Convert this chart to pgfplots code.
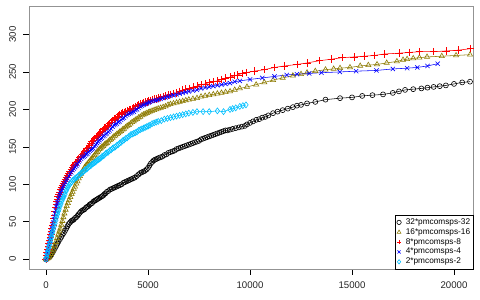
\documentclass[border=0pt]{standalone}
\usepackage{pgfplots}
\pgfplotsset{compat=1.18}
\usepackage{fontspec}
\setmainfont{Liberation Sans}
\definecolor{cblack}{RGB}{0,0,0}
\definecolor{colive}{RGB}{140,122,0}
\definecolor{cred}{RGB}{255,0,0}
\definecolor{cblue}{RGB}{0,0,255}
\definecolor{csky}{RGB}{0,191,255}
\begin{document}
\begin{tikzpicture}
\useasboundingbox (0,0) rectangle (480bp,300bp);
\begin{axis}[
  at={(29.5bp,31bp)}, anchor=south west,
  scale only axis, width=443.5bp, height=263bp,
  xmin=-810, xmax=20930, ymin=-13, ymax=338,
  xtick={0,5000,10000,15000,20000},
  ytick={0,50,100,150,200,250,300},
  scaled x ticks=false,
  /pgf/number format/assume math mode=true,
  /pgf/number format/1000 sep={},
  tick align=outside, tick pos=left,
  major tick length=6bp,
  tick style={black, line width=0.6pt},
  axis line style={draw=gray!85, line width=0.9pt},
  ticklabel style={font=\fontsize{9.7}{11}\selectfont, text=black!85},
  xticklabel style={yshift=-3.5bp},
  yticklabel style={rotate=90, anchor=south, xshift=0bp, yshift=4bp},
  legend cell align=left,
  legend image code/.code={\draw[#1, only marks, mark size=2.2pt] plot coordinates {(0.08cm,0cm)};},
  legend style={at={(rel axis cs:1,0)}, anchor=south east,
    font=\fontsize{8.3}{9}\selectfont, draw=black, line width=0.5pt,
    inner xsep=2pt, inner ysep=2pt, row sep=0pt,
    nodes={inner sep=0.6pt, text height=6.3pt, text depth=2.4pt},
    /tikz/every odd column/.append style={column sep=4pt},
    /tikz/every even column/.append style={column sep=1pt}},
  every axis plot/.append style={line width=0.55pt, mark options={solid, line width=0.6pt}},
]
\addplot[cblack, mark=o, mark size=2.5pt] coordinates {
(0,0) (50,1) (100,2) (150,3) (200,4) (260,6) (320,9) (380,12) (440,15) (500,18) (560,21) (620,24) (686,27) (750,30) (810,33) (870,35) (930,38) (990,41) (1050,44) (1110,47) (1176,49) (1240,51) (1300,52) (1360,53) (1420,55) (1480,56) (1540,58) (1600,60) (1660,62) (1720,64) (1780,65) (1840,66) (1900,67) (1960,69) (2020,70) (2080,71) (2140,73) (2200,74) (2260,75) (2320,77) (2380,78) (2440,79) (2500,80) (2560,81) (2620,82) (2680,83) (2740,84) (2800,85) (2860,87) (2920,88) (2980,90) (3050,91) (3137,93) (3220,94) (3300,95) (3380,96) (3460,97) (3540,98) (3620,99) (3700,100) (3790,102) (3870,103) (3950,104) (4030,105) (4110,106) (4190,107) (4270,108) (4350,109) (4444,111) (4530,113) (4610,115) (4690,116) (4770,117) (4850,118) (4935,120) (5000,122) (5070,125) (5140,128) (5210,130) (5280,132) (5350,133) (5430,134) (5505,135) (5600,136) (5700,137) (5800,139) (5900,140) (6000,142) (6100,143) (6200,144) (6300,145) (6400,147) (6500,148) (6600,149) (6700,150) (6800,151) (6900,152) (7000,153) (7100,154) (7200,155) (7300,156) (7400,157) (7500,158) (7600,160) (7700,161) (7800,162) (7900,163) (8000,164) (8100,165) (8200,166) (8300,167) (8400,168) (8500,169) (8600,170) (8700,171) (8800,172) (8900,172) (9020,173) (9150,174) (9300,175) (9450,176) (9600,177) (9750,178) (9853,180) (10000,182) (10150,184) (10300,186) (10450,187) (10600,189) (10750,190) (10900,192) (11130,195) (11350,197) (11600,199) (11850,201) (12100,203) (12300,205) (12500,206) (12794,208) (13200,210) (13700,213) (14412,215) (15000,216) (15500,218) (16000,219) (16520,220) (17000,222) (17300,224) (17600,226) (18000,227) (18400,228) (18700,229) (19000,230) (19300,231) (19600,232) (20000,234) (20400,236) (20784,237)
};
\addlegendentry{32*pmcomsps-32}
\addplot[colive, mark=triangle, mark size=3pt] coordinates {
(0,0) (60,1) (120,2) (180,4) (240,7) (300,10) (360,13) (420,18) (480,23) (540,28) (600,33) (650,37) (700,41) (750,46) (800,51) (850,56) (900,61) (960,66) (1013,71) (1070,75) (1130,79) (1190,83) (1250,87) (1300,90) (1360,94) (1420,97) (1480,101) (1540,104) (1600,108) (1660,111) (1720,114) (1780,117) (1840,120) (1900,123) (1960,125) (2020,127) (2080,129) (2140,131) (2200,133) (2260,135) (2320,137) (2380,139) (2440,141) (2500,143) (2560,145) (2620,147) (2680,148) (2740,150) (2800,151) (2860,153) (2920,154) (2980,155) (3050,157) (3120,159) (3190,160) (3260,162) (3330,164) (3400,165) (3470,167) (3540,168) (3610,170) (3680,171) (3750,173) (3820,174) (3900,176) (3980,178) (4060,179) (4140,181) (4220,183) (4300,184) (4380,186) (4460,187) (4540,189) (4620,190) (4700,192) (4780,193) (4860,194) (4940,195) (5020,196) (5100,197) (5200,198) (5300,199) (5400,200) (5500,201) (5620,202) (5740,203) (5860,204) (5980,206) (6100,207) (6250,208) (6400,209) (6550,210) (6700,211) (6850,212) (7000,213) (7200,214) (7400,215) (7600,217) (7800,218) (8000,219) (8200,220) (8400,221) (8600,222) (8800,223) (9020,224) (9250,226) (9500,228) (9850,230) (10300,233) (10700,236) (11130,239) (11600,242) (12100,245) (12500,247) (12794,249) (13200,251) (13700,253) (14100,254) (14412,255) (14900,256) (15400,258) (15800,259) (16225,260) (16700,262) (17200,264) (17500,266) (17700,267) (18000,268) (18300,269) (18677,270) (19400,271) (20100,272) (20784,273)
};
\addlegendentry{16*pmcomsps-16}
\addplot[cred, mark=+, mark size=3.8pt] coordinates {
(0,0) (30,5) (60,9) (90,13) (120,17) (150,21) (180,25) (210,29) (240,33) (270,37) (300,41) (330,45) (360,49) (390,54) (420,59) (450,64) (480,69) (510,73) (540,77) (570,80) (600,84) (640,87) (680,90) (720,93) (760,96) (800,99) (850,102) (900,104) (950,107) (1000,110) (1060,112) (1120,115) (1180,118) (1240,120) (1300,123) (1360,125) (1420,127) (1480,129) (1540,131) (1600,134) (1660,136) (1720,138) (1780,140) (1840,142) (1900,144) (1960,146) (2020,148) (2080,150) (2140,152) (2200,155) (2260,157) (2320,159) (2380,161) (2440,163) (2500,164) (2560,166) (2620,168) (2680,170) (2740,171) (2800,173) (2860,175) (2920,176) (2980,177) (3050,179) (3120,181) (3190,183) (3260,185) (3330,187) (3400,188) (3470,190) (3540,191) (3610,193) (3680,194) (3750,195) (3820,196) (3900,197) (3980,198) (4060,199) (4140,200) (4220,201) (4300,202) (4380,204) (4460,205) (4540,206) (4620,207) (4700,208) (4780,209) (4860,210) (4940,210) (5020,211) (5100,212) (5200,213) (5300,214) (5400,214) (5500,215) (5620,216) (5740,217) (5860,218) (5980,219) (6100,220) (6250,221) (6400,222) (6550,224) (6700,226) (6850,227) (7000,228) (7200,230) (7400,231) (7600,233) (7800,234) (8000,236) (8200,237) (8400,238) (8600,240) (8800,242) (9020,243) (9250,245) (9400,246) (9600,248) (9800,249) (10200,251) (10700,253) (11200,256) (11700,258) (12300,260) (12800,262) (13400,265) (14000,267) (14500,269) (15100,270) (15600,271) (16100,272) (16600,274) (17300,275) (17800,276) (18300,277) (19000,277) (19600,278) (20200,279) (20800,281)
};
\addlegendentry{8*pmcomsps-8}
\addplot[cblue, mark=x, mark size=3pt] coordinates {
(0,0) (30,5) (60,9) (90,13) (120,17) (150,21) (180,25) (210,29) (240,33) (270,37) (300,41) (330,45) (360,49) (390,53) (420,57) (450,61) (480,65) (510,70) (540,73) (570,76) (600,80) (640,83) (680,86) (720,89) (760,92) (800,95) (850,98) (900,100) (950,103) (1000,106) (1060,108) (1120,111) (1180,114) (1240,116) (1300,119) (1360,121) (1420,123) (1480,125) (1540,127) (1600,130) (1660,132) (1720,134) (1780,136) (1840,137) (1900,138) (1960,140) (2020,141) (2080,143) (2140,145) (2200,146) (2260,147) (2320,148) (2380,151) (2440,153) (2500,155) (2560,157) (2620,159) (2680,161) (2740,162) (2800,164) (2860,165) (2920,167) (2980,168) (3050,170) (3120,172) (3190,174) (3260,177) (3330,179) (3400,180) (3470,181) (3540,183) (3610,184) (3680,186) (3750,188) (3820,189) (3900,191) (3980,193) (4060,194) (4140,195) (4220,196) (4300,197) (4380,199) (4460,200) (4540,202) (4620,204) (4700,205) (4780,206) (4860,207) (4940,208) (5020,209) (5100,210) (5200,211) (5300,212) (5400,212) (5500,213) (5620,214) (5740,215) (5860,216) (5980,217) (6100,218) (6250,219) (6400,220) (6550,221) (6700,222) (6850,223) (7000,224) (7200,225) (7400,226) (7600,228) (7800,229) (8000,230) (8200,231) (8400,232) (8600,233) (8800,234) (9020,235) (9250,237) (9500,238) (10000,240) (10600,242) (11200,244) (11800,246) (12300,247) (12900,248) (13500,249) (14400,250) (15200,251) (16200,252) (17000,254) (17700,255) (18200,256) (18700,258) (19200,261)
};
\addlegendentry{4*pmcomsps-4}
\addplot[csky, mark=diamond, mark size=3pt] coordinates {
(0,0) (30,3) (60,7) (90,10) (120,14) (150,17) (180,20) (210,23) (240,27) (270,30) (300,34) (330,37) (360,40) (400,44) (440,48) (480,52) (520,56) (560,60) (600,64) (640,67) (686,71) (730,74) (780,78) (830,81) (880,84) (930,87) (980,91) (1013,93) (1070,96) (1130,99) (1190,101) (1250,103) (1300,105) (1360,106) (1420,108) (1480,109) (1540,110) (1600,112) (1660,113) (1720,115) (1780,116) (1840,117) (1900,119) (1960,120) (2020,121) (2080,123) (2140,124) (2200,125) (2260,127) (2320,128) (2380,129) (2440,130) (2500,132) (2560,133) (2620,134) (2680,135) (2740,137) (2800,138) (2860,139) (2920,141) (2980,142) (3050,143) (3120,145) (3190,146) (3260,148) (3330,149) (3400,150) (3470,152) (3540,153) (3610,155) (3680,156) (3750,158) (3820,159) (3900,161) (3980,162) (4060,164) (4140,166) (4220,167) (4300,168) (4380,169) (4460,170) (4540,172) (4620,173) (4700,174) (4780,175) (4860,176) (4940,177) (5020,178) (5100,179) (5200,181) (5300,182) (5400,183) (5500,184) (5650,185) (5800,187) (5950,188) (6100,189) (6250,190) (6400,191) (6550,192) (6700,193) (6850,194) (7000,195) (7200,196) (7400,197) (7700,197) (8000,197) (8400,198) (8700,197) (9020,200) (9150,201) (9300,202) (9500,204) (9650,205) (9800,206)
};
\addlegendentry{2*pmcomsps-2}
\end{axis}
\end{tikzpicture}
\end{document}
